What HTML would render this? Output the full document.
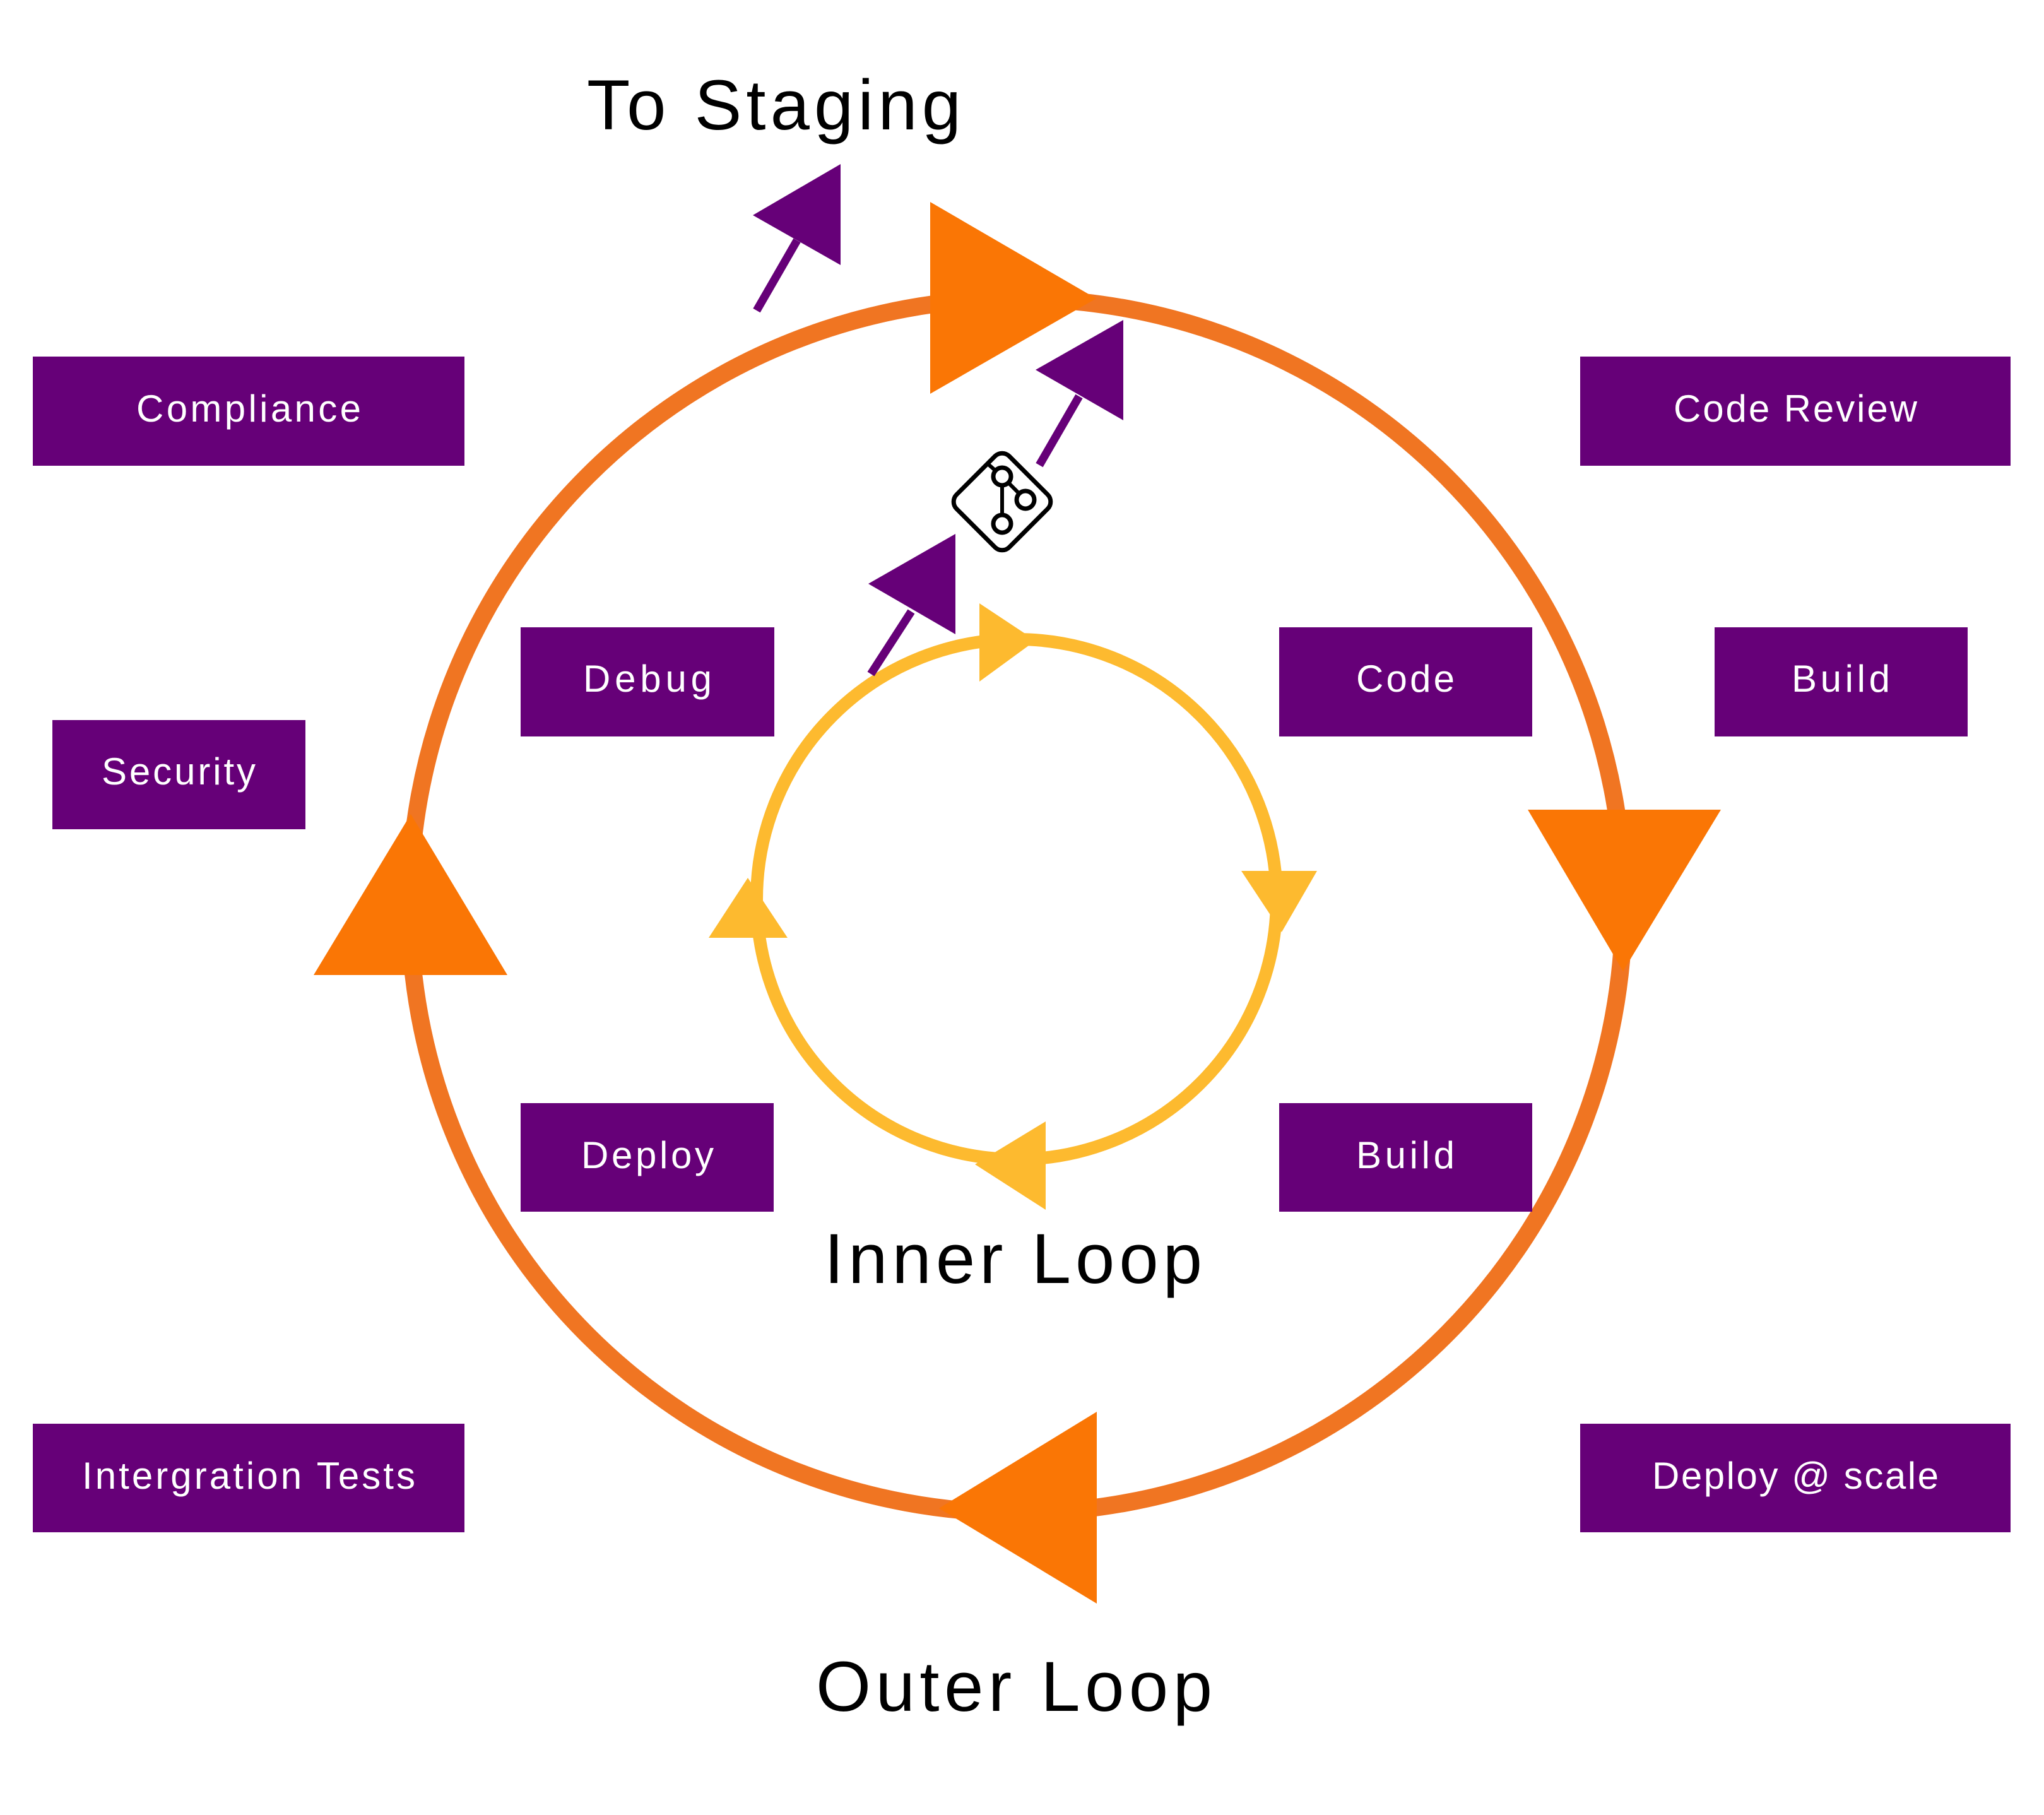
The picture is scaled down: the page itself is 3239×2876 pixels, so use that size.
<!DOCTYPE html>
<html><head><meta charset="utf-8"><style>
html,body{margin:0;padding:0;background:#fff;}
svg{display:block;}
.bt{font-family:"Liberation Sans",sans-serif;font-size:60px;fill:#fff;text-anchor:middle;}
.big{font-family:"Liberation Sans",sans-serif;font-size:112px;fill:#000;}
</style></head><body>
<svg width="3239" height="2876" viewBox="0 0 3239 2876" xmlns="http://www.w3.org/2000/svg">
<rect width="3239" height="2876" fill="#fff"/>
<circle cx="1611" cy="1435" r="962" fill="none" stroke="#F07522" stroke-width="28"/>
<polygon points="1474,320 1474,624 1737,473" fill="#FA7605"/>
<polygon points="2421,1283 2727,1283 2572,1539" fill="#FA7605"/>
<polygon points="1738,2237 1738,2541 1488,2390" fill="#FA7605"/>
<polygon points="651,1290 497,1545 804,1545" fill="#FA7605"/>
<circle cx="1611" cy="1425" r="412" fill="none" stroke="#FDBA2F" stroke-width="20"/>
<polygon points="1552,956 1552,1080 1641,1015" fill="#FDBA2F"/>
<polygon points="1967,1380 2087,1380 2031,1477" fill="#FDBA2F"/>
<polygon points="1657,1777 1657,1917 1545,1845" fill="#FDBA2F"/>
<polygon points="1185,1391 1123,1486 1248,1486" fill="#FDBA2F"/>
<line x1="1199" y1="492" x2="1263" y2="381" stroke="#660078" stroke-width="13"/>
<polygon points="1193,341 1332,260 1332,420" fill="#660078"/>
<line x1="1647" y1="737" x2="1710" y2="628" stroke="#660078" stroke-width="13"/>
<polygon points="1641,586 1780,507 1780,666" fill="#660078"/>
<line x1="1380" y1="1068" x2="1444" y2="969" stroke="#660078" stroke-width="13"/>
<polygon points="1376,925 1514,846 1514,1005" fill="#660078"/>
<rect x="1529" y="736" width="118" height="118" rx="16" transform="rotate(45 1588 795)" fill="#fff" stroke="#000" stroke-width="7"/>
<line x1="1588" y1="755" x2="1588" y2="830" stroke="#000" stroke-width="6"/>
<line x1="1588" y1="755" x2="1625" y2="792" stroke="#000" stroke-width="6"/>
<line x1="1588" y1="755" x2="1563" y2="733" stroke="#000" stroke-width="6"/>
<circle cx="1588" cy="755" r="14" fill="#fff" stroke="#000" stroke-width="7"/>
<circle cx="1625" cy="792" r="14" fill="#fff" stroke="#000" stroke-width="7"/>
<circle cx="1588" cy="830" r="14" fill="#fff" stroke="#000" stroke-width="7"/>
<g fill="#660078">
<rect x="52" y="565" width="684" height="173"/>
<rect x="2504" y="565" width="682" height="173"/>
<rect x="825" y="994" width="402" height="173"/>
<rect x="2027" y="994" width="401" height="173"/>
<rect x="2717" y="994" width="401" height="173"/>
<rect x="83" y="1141" width="401" height="173"/>
<rect x="825" y="1748" width="401" height="172"/>
<rect x="2027" y="1748" width="401" height="172"/>
<rect x="52" y="2256" width="684" height="172"/>
<rect x="2504" y="2256" width="682" height="172"/>
</g>
<text class="bt" x="394" y="668" textLength="356">Compliance</text>
<text class="bt" x="2845" y="668" textLength="386">Code Review</text>
<text class="bt" x="1026" y="1096" textLength="204">Debug</text>
<text class="bt" x="2227" y="1096" textLength="156">Code</text>
<text class="bt" x="2917" y="1096" textLength="156">Build</text>
<text class="bt" x="283" y="1243" textLength="244">Security</text>
<text class="bt" x="1026" y="1851" textLength="210">Deploy</text>
<text class="bt" x="2227" y="1851" textLength="156">Build</text>
<text class="bt" x="394" y="2359" textLength="528">Intergration Tests</text>
<text class="bt" x="2845" y="2359" textLength="454">Deploy @ scale</text>
<text class="big" x="930" y="205" textLength="593">To Staging</text>
<text class="big" x="1306" y="2033" textLength="599">Inner Loop</text>
<text class="big" x="1293" y="2711" textLength="628">Outer Loop</text>
</svg>
</body></html>
